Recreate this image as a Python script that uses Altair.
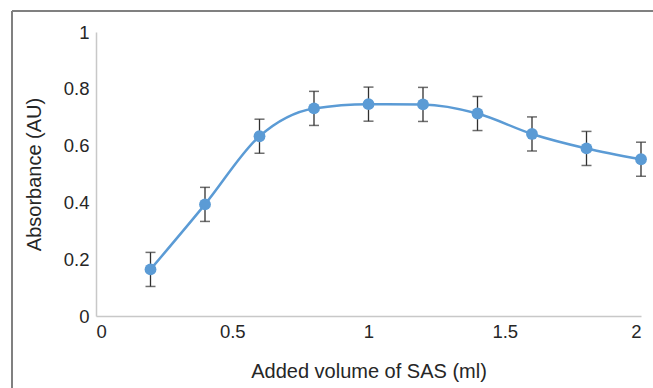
import altair as alt
import pandas as pd

volume = [0.2, 0.4, 0.6, 0.8, 1.0, 1.2, 1.4, 1.6, 1.8, 2.0]
absorbance = [0.164, 0.393, 0.633, 0.731, 0.746, 0.745, 0.713, 0.641, 0.590, 0.552]
err = [0.06, 0.06, 0.06, 0.06, 0.06, 0.06, 0.06, 0.06, 0.06, 0.06]

df = pd.DataFrame({"v": volume, "a": absorbance, "e": err})
df["lo"] = df["a"] - df["e"]
df["hi"] = df["a"] + df["e"]

blue = "#5B9BD5"
font = "Liberation Sans"
lbl = "format(datum.value, '~g')"

x = alt.X("v:Q", scale=alt.Scale(domain=[0, 2], nice=False),
          axis=alt.Axis(values=[0, 0.5, 1, 1.5, 2], title="Added volume of SAS (ml)", labelExpr=lbl))
y = alt.Y("a:Q", scale=alt.Scale(domain=[0, 1], nice=False),
          axis=alt.Axis(values=[0, 0.2, 0.4, 0.6, 0.8, 1], title="Absorbance (AU)", labelExpr=lbl))

base = alt.Chart(df)

line = base.mark_line(color=blue, strokeWidth=2.5, interpolate="monotone").encode(x=x, y=y)
bars = base.mark_rule(color="#303030", strokeWidth=1.3).encode(x="v:Q", y="lo:Q", y2="hi:Q")
cap_lo = base.mark_tick(color="#303030", size=10, thickness=1.5, orient="horizontal").encode(x="v:Q", y="lo:Q")
cap_hi = base.mark_tick(color="#303030", size=10, thickness=1.5, orient="horizontal").encode(x="v:Q", y="hi:Q")
pts = base.mark_point(filled=True, size=140, color=blue, opacity=1).encode(x=x, y=y)

frame_top = alt.Chart(df).mark_rule(color="#808080", strokeWidth=2).encode(
    x=alt.value(-84), x2=alt.value(560), y=alt.value(-21))
frame_left = alt.Chart(df).mark_rule(color="#808080", strokeWidth=2).encode(
    x=alt.value(-84), y=alt.value(-21), y2=alt.value(360))

chart = alt.layer(frame_top, frame_left, line, bars, cap_lo, cap_hi, pts).properties(
    width=545, height=284,
    autosize=alt.AutoSizeParams(type="none"),
    padding={"left": 96, "top": 32, "right": 12, "bottom": 72},
).configure_view(stroke=None).configure_axis(
    grid=False, domainColor="#c8c8c8", domainWidth=1.5, ticks=False,
    labelFont=font, labelFontSize=18.5, labelColor="#262626",
    titleFont=font, titleFontSize=20, titleColor="#262626", titleFontWeight="normal",
).configure_axisX(labelPadding=6, titlePadding=21).configure_axisY(labelPadding=7, titlePadding=19)

chart.save("out.html", embed_options={"renderer": "svg", "actions": False})
